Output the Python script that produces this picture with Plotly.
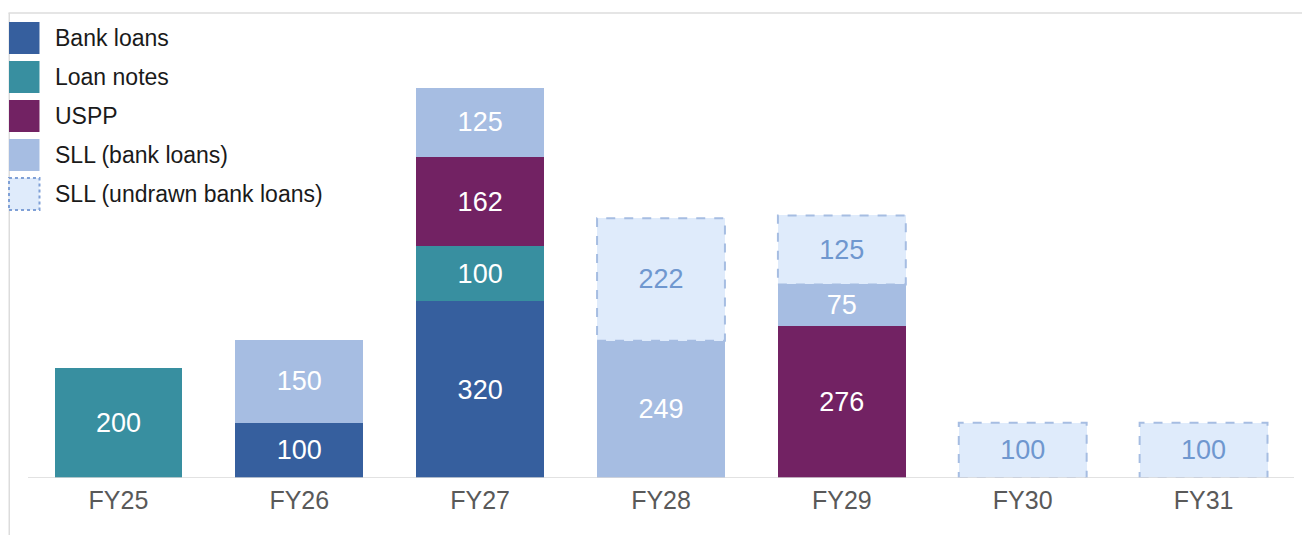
import plotly.graph_objects as go

categories = ["FY25", "FY26", "FY27", "FY28", "FY29", "FY30", "FY31"]
bank_loans = [0, 100, 320, 0, 0, 0, 0]
loan_notes = [200, 0, 100, 0, 0, 0, 0]
uspp = [0, 0, 162, 0, 276, 0, 0]
sll_bank = [0, 150, 125, 249, 75, 0, 0]
sll_undrawn = [0, 0, 0, 222, 125, 100, 100]

series = [
    ("Bank loans", bank_loans, "#365f9e", "white"),
    ("Loan notes", loan_notes, "#388fa0", "white"),
    ("USPP", uspp, "#722263", "white"),
    ("SLL (bank loans)", sll_bank, "#a6bde2", "white"),
    ("SLL (undrawn bank loans)", sll_undrawn, "#dfebfb", "#6f97cf"),
]

FONT = "Liberation Sans, Arial, sans-serif"
BAR_W = 0.707

fig = go.Figure()
for name, vals, color, tcolor in series:
    fig.add_trace(go.Bar(
        x=categories, y=vals, name=name,
        marker=dict(color=color, line=dict(width=0)),
        width=BAR_W,
        text=[str(v) if v else "" for v in vals],
        textposition="inside", insidetextanchor="middle",
        textfont=dict(color=tcolor, size=27, family=FONT),
        textangle=0,
        showlegend=False,
        hoverinfo="skip",
    ))

# dashed outlines for undrawn segments, computed from data
shapes = []
for i, cat in enumerate(categories):
    v = sll_undrawn[i]
    if v:
        base = bank_loans[i] + loan_notes[i] + uspp[i] + sll_bank[i]
        shapes.append(dict(
            type="rect", xref="x", yref="y",
            x0=i - BAR_W / 2, x1=i + BAR_W / 2, y0=base, y1=base + v,
            line=dict(color="#a6bde2", width=2, dash="dash"),
            fillcolor="rgba(0,0,0,0)", layer="above",
        ))

# figure-pixel layout (page has an 8px body margin)
W, H = 1310, 535
L, R, T, B = 19.5, 23.5, 5, 65
pw, ph = W - L - R, H - T - B
def px(xp):
    return (xp - L) / pw
def py(yp):
    return (H - B - yp) / ph

shapes.append(dict(type="line", xref="paper", yref="paper", x0=px(0), x1=px(W),
                   y0=1, y1=1, line=dict(color="#dcdcdc", width=1.5), layer="below"))
shapes.append(dict(type="line", xref="paper", yref="paper", x0=px(0.75), x1=px(0.75),
                   y0=1, y1=py(H), line=dict(color="#dcdcdc", width=1.5), layer="below"))
shapes.append(dict(type="line", xref="paper", yref="y", x0=0, x1=1,
                   y0=0, y1=0, line=dict(color="#d9d9d9", width=1.5), layer="above"))

# manual legend
annotations = []
for k, (name, vals, color, tcolor) in enumerate(series):
    top = 14 + k * 39
    dashed = k == 4
    shapes.append(dict(
        type="rect", xref="paper", yref="paper",
        x0=px(0.5), x1=px(31), y0=py(top + 32), y1=py(top),
        fillcolor=color,
        line=dict(color="#7fa0d6", width=2, dash="dot") if dashed else dict(width=0),
    ))
    annotations.append(dict(
        xref="paper", yref="paper", x=px(45), y=py(top + 16),
        xanchor="left", yanchor="middle", text=name, showarrow=False,
        font=dict(size=23, color="#1a1a1a", family=FONT),
    ))

fig.update_layout(
    barmode="stack",
    width=W, height=H,
    margin=dict(l=L, r=R, t=T, b=B),
    paper_bgcolor="white", plot_bgcolor="white",
    shapes=shapes, annotations=annotations,
    xaxis=dict(showgrid=False, showline=False, zeroline=False, ticks="",
               ticklabelstandoff=5,
               tickfont=dict(size=25, color="#595959", family=FONT)),
    yaxis=dict(range=[0, 843], visible=False, showgrid=False, zeroline=False),
    uniformtext=dict(mode=False),
    font=dict(family=FONT),
)

fig.write_html("out.html")
